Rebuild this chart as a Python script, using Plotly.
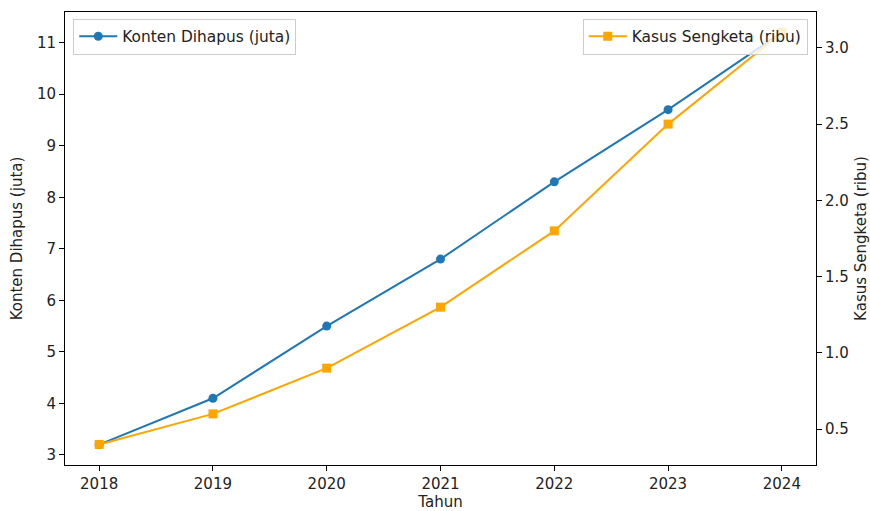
import plotly.graph_objects as go

years = [2018, 2019, 2020, 2021, 2022, 2023, 2024]
konten = [3.2, 4.1, 5.5, 6.8, 8.3, 9.7, 11.2]
sengketa = [0.4, 0.6, 0.9, 1.3, 1.8, 2.5, 3.1]

FONT = "DejaVu Sans"
FS = 15
fig = go.Figure()
fig.add_trace(go.Scatter(
    x=years, y=konten, mode="lines+markers", name="Konten Dihapus (juta)",
    line=dict(color="#1f77b4", width=2), marker=dict(symbol="circle", size=9, color="#1f77b4"),
    yaxis="y", legend="legend", showlegend=True))
fig.add_trace(go.Scatter(
    x=years, y=sengketa, mode="lines+markers", name="Kasus Sengketa (ribu)",
    line=dict(color="#FFA500", width=2), marker=dict(symbol="square", size=9, color="#FFA500"),
    yaxis="y2", legend="legend2", showlegend=True))

axis_common = dict(showline=True, linecolor="black", linewidth=1, ticks="outside",
                   ticklen=5, tickwidth=1, tickcolor="black", showgrid=False, zeroline=False,
                   automargin=False,
                   tickfont=dict(family=FONT, size=FS, color="#222"))

fig.update_layout(
    width=870, height=511,
    margin=dict(l=65, r=54, t=12, b=46),
    plot_bgcolor="white", paper_bgcolor="white",
    showlegend=True,
    font=dict(family=FONT, size=FS, color="#222"),
    xaxis=dict(range=[2017.7, 2024.3], tickmode="array", tickvals=years,
               ticktext=[str(y) for y in years], mirror=True,
               title=dict(text="Tahun", font=dict(family=FONT, size=FS), standoff=8),
               **axis_common),
    yaxis=dict(range=[2.805, 11.595], tickvals=[3, 4, 5, 6, 7, 8, 9, 10, 11],
               title=dict(text="Konten Dihapus (juta)", font=dict(family=FONT, size=FS), standoff=10),
               **axis_common),
    yaxis2=dict(range=[0.265, 3.235], overlaying="y", side="right",
                tickvals=[0.5, 1.0, 1.5, 2.0, 2.5, 3.0],
                ticktext=["0.5", "1.0", "1.5", "2.0", "2.5", "3.0"],
                title=dict(text="Kasus Sengketa (ribu)", font=dict(family=FONT, size=FS), standoff=13),
                **axis_common),
    legend=dict(x=0.011, y=0.985, xanchor="left", yanchor="top",
                bgcolor="rgba(255,255,255,0.8)", bordercolor="#cccccc", borderwidth=1,
                itemwidth=38, tracegroupgap=0,
                font=dict(family=FONT, size=15.4, color="#222")),
    legend2=dict(x=0.989, y=0.985, xanchor="right", yanchor="top",
                 bgcolor="rgba(255,255,255,0.8)", bordercolor="#cccccc", borderwidth=1,
                 itemwidth=38, tracegroupgap=0,
                 font=dict(family=FONT, size=15.4, color="#222")),
)

fig.write_html("out.html", config={"displayModeBar": False},
               post_script="document.body.style.margin='0';document.body.style.overflow='hidden';")
